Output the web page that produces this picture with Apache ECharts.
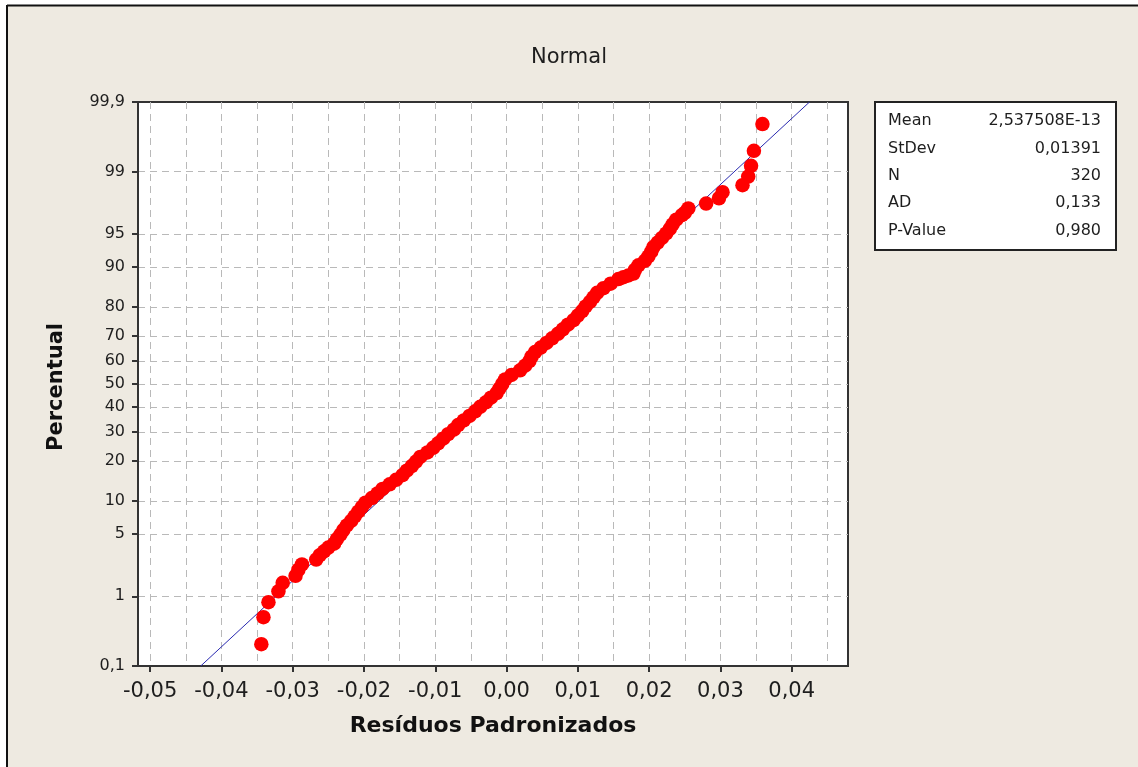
<!DOCTYPE html>
<html>
<head>
<meta charset="utf-8">
<script src="https://cdn.jsdelivr.net/npm/echarts@6/dist/echarts.min.js"></script>
<style>
html,body{margin:0;padding:0;background:#fff;}
#chart{width:1138px;height:767px;}
</style>
</head>
<body>
<div id="chart"></div>
<script>
// ---- data ----
const titleText = 'Normal';
const xTitle = 'Resíduos Padronizados';
const yTitle = 'Percentual';
const xTickValues = [-0.05, -0.04, -0.03, -0.02, -0.01, 0.00, 0.01, 0.02, 0.03, 0.04];
const xGridValues = [-0.05, -0.045, -0.04, -0.035, -0.03, -0.025, -0.02, -0.015, -0.01, -0.005, 0, 0.005, 0.01, 0.015, 0.02, 0.025, 0.03, 0.035, 0.04, 0.045];
const yTickPercents = [0.1, 1, 5, 10, 20, 30, 40, 50, 60, 70, 80, 90, 95, 99, 99.9];
const yTickLabels = ['0,1', '1', '5', '10', '20', '30', '40', '50', '60', '70', '80', '90', '95', '99', '99,9'];
const yGridPercents = [1, 5, 10, 20, 30, 40, 50, 60, 70, 80, 90, 95, 99];
const statNames = ['Mean', 'StDev', 'N', 'AD', 'P-Value'];
const statValues = ['2,537508E-13', '0,01391', '320', '0,133', '0,980'];
// residual, percent
const residualPoints = [
  [-0.0344, 0.218], [-0.0341, 0.53], [-0.0334, 0.84], [-0.0320, 1.154], [-0.0314, 1.467],
  [-0.0296, 1.779], [-0.0292, 2.09], [-0.0287, 2.40], [-0.0267, 2.72], [-0.0262, 3.03],
  [-0.0256, 3.34], [-0.0250, 3.65], [-0.0242, 4.01], [-0.0238, 4.46], [-0.0233, 4.95],
  [-0.0229, 5.48], [-0.0224, 6.06], [-0.0218, 6.68], [-0.0213, 7.35], [-0.0208, 8.08],
  [-0.0203, 8.85], [-0.0198, 9.68], [-0.0189, 10.56], [-0.0181, 11.51], [-0.0174, 12.51],
  [-0.0164, 13.57], [-0.0155, 14.69], [-0.0146, 15.87], [-0.0140, 17.11], [-0.0133, 18.41],
  [-0.0127, 19.77], [-0.0121, 21.19], [-0.0111, 22.66], [-0.0103, 24.20], [-0.0096, 25.78],
  [-0.0089, 27.43], [-0.0082, 29.12], [-0.0074, 30.85], [-0.0068, 32.64], [-0.0060, 34.46],
  [-0.0052, 36.32], [-0.0044, 38.21], [-0.0037, 40.13], [-0.0029, 42.07], [-0.0022, 44.04],
  [-0.0014, 46.02], [-0.0010, 48.01], [-0.0006, 50.00], [-0.0002, 51.99], [0.0007, 53.98],
  [0.0019, 55.96], [0.0026, 57.93], [0.0032, 59.87], [0.0035, 61.79], [0.0040, 63.68],
  [0.0048, 65.54], [0.0056, 67.36], [0.0064, 69.15], [0.0072, 70.88], [0.0079, 72.57],
  [0.0086, 74.22], [0.0094, 75.80], [0.0100, 77.34], [0.0106, 78.81], [0.0111, 80.23],
  [0.0117, 81.59], [0.0122, 82.89], [0.0127, 84.13], [0.0136, 85.31], [0.0146, 86.43],
  [0.0157, 87.49], [0.0164, 87.90], [0.0171, 88.30], [0.0178, 88.70], [0.0180, 89.44],
  [0.0185, 90.32], [0.0194, 91.15], [0.0199, 91.92], [0.0203, 92.65], [0.0206, 93.32],
  [0.0212, 93.94], [0.0218, 94.52], [0.0224, 95.05], [0.0229, 95.54], [0.0233, 95.99],
  [0.0238, 96.41], [0.0246, 96.78], [0.0250, 96.97], [0.0255, 97.28], [0.0280, 97.60],
  [0.0298, 97.91], [0.0303, 98.22], [0.0331, 98.53], [0.0339, 98.85], [0.0343, 99.16],
  [0.0347, 99.47], [0.0359, 99.78]
];
const fitLinePoints = [[-0.0429, 0.1], [0.0425, 99.9]];
const xMin = -0.0517, xMax = 0.0479;

// ---- normal probability scale (percent -> z) ----
function probit(p) {
  const a = [-3.969683028665376e+01, 2.209460984245205e+02, -2.759285104469687e+02, 1.383577518672690e+02, -3.066479806614716e+01, 2.506628277459239e+00];
  const b = [-5.447609879822406e+01, 1.615858368580409e+02, -1.556989798598866e+02, 6.680131188771972e+01, -1.328068155288572e+01];
  const c = [-7.784894002430293e-03, -3.223964580411365e-01, -2.400758277161838e+00, -2.549671348283604e+00, 4.374664141464968e+00, 2.938163982698783e+00];
  const d = [7.784695709041462e-03, 3.224671290700398e-01, 2.445134137142996e+00, 3.754408661907416e+00];
  const plow = 0.02425, phigh = 1 - plow;
  let q, r;
  if (p < plow) {
    q = Math.sqrt(-2 * Math.log(p));
    return (((((c[0]*q+c[1])*q+c[2])*q+c[3])*q+c[4])*q+c[5]) / ((((d[0]*q+d[1])*q+d[2])*q+d[3])*q+1);
  } else if (p <= phigh) {
    q = p - 0.5; r = q*q;
    return (((((a[0]*r+a[1])*r+a[2])*r+a[3])*r+a[4])*r+a[5])*q / (((((b[0]*r+b[1])*r+b[2])*r+b[3])*r+b[4])*r+1);
  } else {
    q = Math.sqrt(-2 * Math.log(1 - p));
    return -(((((c[0]*q+c[1])*q+c[2])*q+c[3])*q+c[4])*q+c[5]) / ((((d[0]*q+d[1])*q+d[2])*q+d[3])*q+1);
  }
}
const pz = pct => probit(pct / 100);
const yTickZ = yTickPercents.map(pz);
const yGridZ = yGridPercents.map(pz);
const yMin = pz(0.1), yMax = pz(99.9);

const FONT = '"DejaVu Sans", Verdana, sans-serif';
const TXT = '#1e1e1e';
const GRIDC = '#b9b9b9';

const chart = echarts.init(document.getElementById('chart'), null, {renderer: 'canvas'});

const statGraphics = [];
statNames.forEach((n, i) => {
  statGraphics.push({type: 'text', x: 888, y: 121 + i * 27.4,
    style: {text: n, font: '16px ' + FONT, fill: TXT, textAlign: 'left', textVerticalAlign: 'middle'}, z: 11});
  statGraphics.push({type: 'text', x: 1101, y: 121 + i * 27.4,
    style: {text: statValues[i], font: '16px ' + FONT, fill: TXT, textAlign: 'right', textVerticalAlign: 'middle'}, z: 11});
});

chart.setOption({
  backgroundColor: '#EEEAE1',
  animation: false,
  title: {
    text: titleText, left: 'center', top: 42,
    textStyle: {fontFamily: FONT, fontSize: 21, fontWeight: 'normal', color: TXT}
  },
  grid: {
    left: 138, top: 102, right: 290, bottom: 101,
    show: true, backgroundColor: '#fff', borderColor: '#333', borderWidth: 2
  },
  xAxis: [{
    type: 'value', min: xMin, max: xMax,
    axisLine: {show: true, onZero: false, lineStyle: {color: '#333', width: 2}},
    axisTick: {show: true, length: 6, customValues: xTickValues, lineStyle: {color: '#333', width: 2}},
    axisLabel: {customValues: xTickValues, margin: 15, fontFamily: FONT, fontSize: 21, color: TXT,
      formatter: v => v.toFixed(2).replace('.', ',')},
    splitLine: {show: false}
  }, {
    type: 'value', min: xMin, max: xMax, position: 'bottom',
    axisLine: {show: false}, axisLabel: {show: false},
    axisTick: {show: false, customValues: xGridValues},
    splitLine: {show: true, lineStyle: {color: GRIDC, type: [7, 5], width: 1}}
  }],
  yAxis: [{
    type: 'value', min: yMin, max: yMax,
    axisLine: {show: true, onZero: false, lineStyle: {color: '#333', width: 2}},
    axisTick: {show: true, length: 6, customValues: yTickZ, lineStyle: {color: '#333', width: 2}},
    axisLabel: {customValues: yTickZ, margin: 13, fontFamily: FONT, fontSize: 16, color: TXT,
      formatter: v => {
        let best = 0, bd = Infinity;
        yTickZ.forEach((z, i) => { const dd = Math.abs(z - v); if (dd < bd) { bd = dd; best = i; } });
        return yTickLabels[best];
      }},
    splitLine: {show: false}
  }, {
    type: 'value', min: yMin, max: yMax, position: 'left',
    axisLine: {show: false}, axisLabel: {show: false},
    axisTick: {show: false, customValues: yGridZ},
    splitLine: {show: true, lineStyle: {color: GRIDC, type: [7, 5], width: 1}}
  }],
  series: [{
    type: 'line', xAxisIndex: 0, yAxisIndex: 0,
    data: fitLinePoints.map(d => [d[0], pz(d[1])]),
    symbol: 'none', lineStyle: {color: '#2a2ab0', width: 1}, z: 2, silent: true
  }, {
    type: 'scatter', xAxisIndex: 0, yAxisIndex: 0,
    data: residualPoints.map(d => [d[0], pz(d[1])]),
    symbol: 'circle', symbolSize: 14.5,
    itemStyle: {color: '#ff0000', opacity: 1}, z: 3, silent: true
  }],
  graphic: [
    {type: 'rect', shape: {x: 0, y: 0, width: 1138, height: 5}, style: {fill: '#ffffff'}, z: 10, silent: true},
    {type: 'rect', shape: {x: 0, y: 0, width: 6, height: 767}, style: {fill: '#ffffff'}, z: 10, silent: true},
    {type: 'line', shape: {x1: 7, y1: 5.5, x2: 1138, y2: 5.5}, style: {stroke: '#111', lineWidth: 2}, z: 10, silent: true},
    {type: 'line', shape: {x1: 7, y1: 5, x2: 7, y2: 767}, style: {stroke: '#111', lineWidth: 2}, z: 10, silent: true},
    {type: 'rect', shape: {x: 875, y: 102, width: 241, height: 148},
      style: {fill: '#fff', stroke: '#222', lineWidth: 2}, z: 10, silent: true},
    {type: 'text', x: 493, y: 726,
      style: {text: xTitle, font: 'bold 22px ' + FONT, fill: '#111', textAlign: 'center', textVerticalAlign: 'middle'}, z: 11},
    {type: 'text', x: 57, y: 387, rotation: Math.PI / 2,
      style: {text: yTitle, font: 'bold 21px ' + FONT, fill: '#111', textAlign: 'center', textVerticalAlign: 'middle'}, z: 11}
  ].concat(statGraphics)
});
</script>
</body>
</html>
